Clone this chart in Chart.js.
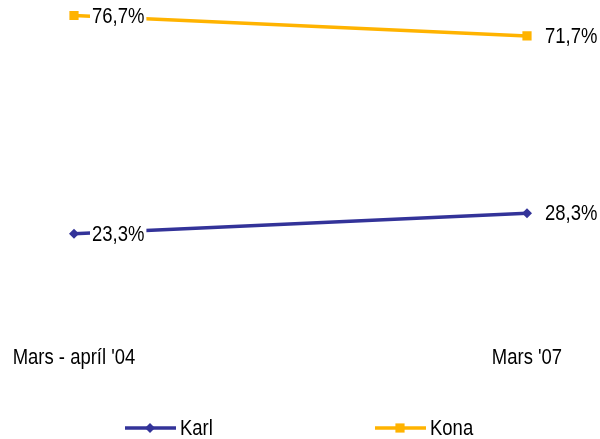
<!DOCTYPE html>
<html>
<head>
<meta charset="utf-8">
<script src="https://cdn.jsdelivr.net/npm/chart.js@4"></script>
<style>
  html, body { margin: 0; padding: 0; background: #fff; }
  #wrap { width: 600px; height: 439px; }
</style>
</head>
<body>
<div id="wrap"><canvas id="lineChart"></canvas></div>
<script>
// Data
const categories = ['Mars - apríl \'04', 'Mars \'07'];
const karlValues = [23.3, 28.3];
const konaValues = [76.7, 71.7];
const seriesNames = ['Karl', 'Kona'];

const FONT = "'Liberation Sans', Arial, sans-serif";
const BLUE = '#333399';
const ORANGE = '#FFB300';
const NARROW = 0.84; // squeeze Liberation Sans to look like Arial Narrow

// draw text horizontally condensed
function narrowText(ctx, txt, x, y, align) {
    ctx.save();
    ctx.font = '22px ' + FONT;
    ctx.textBaseline = 'middle';
    ctx.textAlign = align || 'left';
    ctx.translate(x, y);
    ctx.scale(NARROW, 1);
    ctx.fillText(txt, 0, 0);
    ctx.restore();
}

function narrowWidth(ctx, txt) {
    ctx.save();
    ctx.font = '22px ' + FONT;
    const w = ctx.measureText(txt).width * NARROW;
    ctx.restore();
    return w;
}

// category names under the plot, placed with the x scale
const categoryLabels = {
    id: 'categoryLabels',
    afterDraw(chart) {
        const ctx = chart.ctx;
        const xScale = chart.scales.x;
        ctx.fillStyle = '#000';
        chart.data.labels.forEach((lab, i) => {
            narrowText(ctx, lab, xScale.getPixelForValue(i), 358, 'center');
        });
    }
};

// percent labels next to each point, white box so the line goes behind the text
const valueLabels = {
    id: 'valueLabels',
    afterDatasetsDraw(chart) {
        const ctx = chart.ctx;
        chart.data.datasets.forEach((ds, i) => {
            chart.getDatasetMeta(i).data.forEach((pt, j) => {
                const txt = ds.data[j].toFixed(1).replace('.', ',') + '%';
                const w = narrowWidth(ctx, txt);
                ctx.fillStyle = '#fff';
                ctx.fillRect(pt.x + 16, pt.y - 11, w + 4, 22);
                ctx.fillStyle = '#000';
                narrowText(ctx, txt, pt.x + 18, pt.y + 1);
            });
        });
    }
};

// legend drawn by hand: line with marker in the middle, then the name
const lineLegend = {
    id: 'lineLegend',
    afterDraw(chart) {
        const ctx = chart.ctx;
        const y = 428;
        const starts = [125, 375];
        chart.data.datasets.forEach((ds, i) => {
            const x0 = starts[i];
            ctx.save();
            ctx.strokeStyle = ds.borderColor;
            ctx.lineWidth = 3.5;
            ctx.beginPath();
            ctx.moveTo(x0, y);
            ctx.lineTo(x0 + 51, y);
            ctx.stroke();
            ctx.fillStyle = ds.borderColor;
            Chart.helpers.drawPoint(ctx, {
                pointStyle: ds.pointStyle,
                radius: ds.pointRadius,
                borderWidth: 0
            }, x0 + 25, y);
            ctx.restore();
            ctx.fillStyle = '#000';
            narrowText(ctx, ds.label, x0 + 55, y + 1);
        });
    }
};

new Chart(document.getElementById('lineChart'), {
    type: 'line',
    data: {
        labels: categories,
        datasets: [
            {
                label: seriesNames[0],
                data: karlValues,
                borderColor: BLUE,
                backgroundColor: BLUE,
                borderWidth: 3.5,
                pointStyle: 'rectRot',
                pointRadius: 5,
                pointBorderWidth: 0,
                tension: 0
            },
            {
                label: seriesNames[1],
                data: konaValues,
                borderColor: ORANGE,
                backgroundColor: ORANGE,
                borderWidth: 3.5,
                pointStyle: 'rect',
                pointRadius: 6.5,
                pointBorderWidth: 0,
                tension: 0
            }
        ]
    },
    options: {
        responsive: true,
        maintainAspectRatio: false,
        animation: false,
        layout: {
            autoPadding: false,
            padding: { left: 74, right: 73, top: 2, bottom: 110 }
        },
        scales: {
            x: {
                offset: false,
                grid: { display: false, drawTicks: false },
                border: { display: false },
                ticks: { display: false }
            },
            y: {
                display: false,
                min: 0,
                max: 80
            }
        },
        plugins: {
            legend: { display: false },
            tooltip: { enabled: false }
        }
    },
    plugins: [valueLabels, categoryLabels, lineLegend]
});
</script>
</body>
</html>
